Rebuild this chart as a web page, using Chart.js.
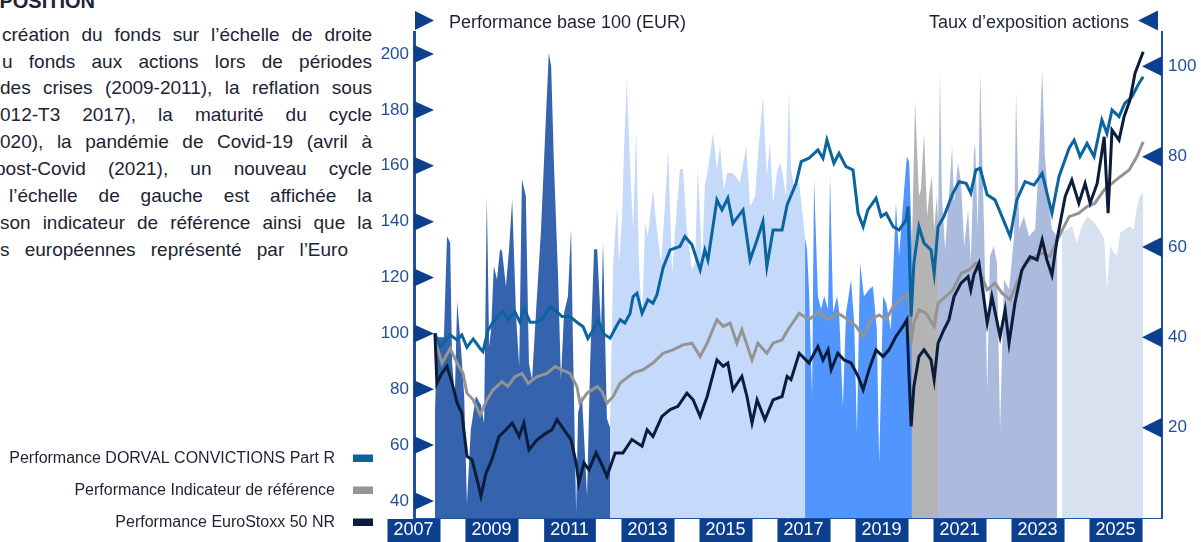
<!DOCTYPE html>
<html lang="fr">
<head>
<meta charset="utf-8">
<title>Performance base 100 et taux d'exposition actions</title>
<script src="https://cdn.jsdelivr.net/npm/chart.js@4.4.0/dist/chart.umd.min.js"></script>
<style>
  html, body { margin: 0; padding: 0; background: #fff; overflow: hidden; }
  body { width: 1201px; height: 542px; position: relative; font-family: "Liberation Sans", Arial, sans-serif; }
  #chart { position: absolute; left: 0; top: 0; }
  .l { position: absolute; height: 27px; line-height: 27px; font-size: 19px; color: #1c2334;
       text-align: justify; text-align-last: justify; }
  .h { position: absolute; right: 1106px; top: -12px; height: 27px; line-height: 27px;
       font-size: 20px; font-weight: bold; color: #1c2334; white-space: nowrap; }
</style>
</head>
<body>
<div class="h">EXPOSITION</div>
<div class="l" style="top:20.6px;left:2px;width:370px">création du fonds sur l’échelle de droite</div>
<div class="l" style="top:47.5px;left:2px;width:370px">u fonds aux actions lors de périodes</div>
<div class="l" style="top:74.4px;left:0;width:372px">des crises (2009-2011), la reflation sous</div>
<div class="l" style="top:101.3px;left:0;width:372px">012-T3 2017), la maturité du cycle</div>
<div class="l" style="top:128.2px;left:0;width:372px">020), la pandémie de Covid-19 (avril à</div>
<div class="l" style="top:155.1px;left:-5px;width:377px">post-Covid (2021), un nouveau cycle</div>
<div class="l" style="top:182px;left:9px;width:363px">l’échelle de gauche est affichée la</div>
<div class="l" style="top:208.9px;left:0;width:372px">son indicateur de référence ainsi que la</div>
<div class="l" style="top:235.8px;left:0;width:348px">s européennes représenté par l’Euro</div>

<canvas id="chart" width="1201" height="542"></canvas>

<script>
// ========== DONNÉES ==========
// années décimales (le libellé "2009" est centré sur le milieu de l'année)
const yearTicks = [2007, 2009, 2011, 2013, 2015, 2017, 2019, 2021, 2023, 2025];

const seriesLabels = [
  'Performance DORVAL CONVICTIONS Part R',
  'Performance Indicateur de référence',
  'Performance EuroStoxx 50 NR'
];
const leftTitle = 'Performance base 100 (EUR)';
const rightTitle = 'Taux d’exposition actions';

const fundDates = [2008.05, 2008.18, 2008.44, 2008.62, 2008.74, 2008.87, 2009.03, 2009.21, 2009.28, 2009.41,
  2009.54, 2009.79, 2009.92, 2010.10, 2010.23, 2010.33, 2010.49, 2010.67, 2010.82, 2011.00,
  2011.13, 2011.31, 2011.51, 2011.69, 2011.85, 2011.97, 2012.10, 2012.23, 2012.36, 2012.54,
  2012.72, 2012.80, 2012.92, 2013.05, 2013.13, 2013.23, 2013.36, 2013.51, 2013.64, 2013.74,
  2013.90, 2014.08, 2014.33, 2014.46, 2014.64, 2014.85, 2014.97, 2015.05, 2015.28, 2015.41,
  2015.56, 2015.69, 2015.82, 2015.95, 2016.13, 2016.31, 2016.46, 2016.56, 2016.72, 2016.95,
  2017.08, 2017.31, 2017.44, 2017.64, 2017.87, 2018.00, 2018.10, 2018.28, 2018.41, 2018.59,
  2018.77, 2018.90, 2019.03, 2019.15, 2019.36, 2019.49, 2019.62, 2019.80, 2019.95, 2020.13,
  2020.18, 2020.26, 2020.33, 2020.46, 2020.59, 2020.77, 2020.85, 2020.95, 2021.10, 2021.33,
  2021.49, 2021.67, 2021.79, 2021.92, 2022.03, 2022.21, 2022.41, 2022.59, 2022.80, 2022.97,
  2023.18, 2023.41, 2023.62, 2023.87, 2024.05, 2024.31, 2024.44, 2024.59, 2024.77, 2024.95,
  2025.15, 2025.28, 2025.41, 2025.59, 2025.74, 2025.92, 2026.10, 2026.21];
const fundValues = [100, 95.2, 99.5, 97.6, 99.4, 95, 98, 94.6, 93.5, 101,
  104, 108, 105, 107.7, 104, 109, 104, 104, 105.4, 109.5,
  108.3, 106, 106, 104, 102.4, 98.2, 101, 104.8, 100, 98.3,
  103, 104.9, 103.7, 107, 113.2, 114.4, 107.2, 112, 110.8, 113.7,
  123.5, 129.9, 131.1, 134.7, 131.7, 122.7, 129.9, 126.3, 147.8, 144.2,
  148.4, 139.4, 141.8, 144.2, 126.3, 133.5, 140, 123.9, 137, 137,
  146, 153.7, 161.5, 162.7, 165.7, 162.7, 169.2, 160.9, 164.5, 159.7,
  158.5, 143, 138.2, 144.2, 148.4, 141.8, 143, 138.2, 137, 140.6,
  145.4, 106, 125.1, 138.2, 132.3, 129.9, 121.5, 138.2, 141.8, 150.2,
  154.3, 153.7, 150.2, 158.5, 159.1, 149.6, 147.8, 141.8, 134.7, 147.8,
  154.3, 153.1, 157.3, 143, 156.1, 166.3, 169.2, 163.3, 168, 163.3,
  176.4, 171.6, 180, 177.6, 182.4, 184.7, 189.5, 191.9];

const indexDates = [2008.05, 2008.13, 2008.23, 2008.44, 2008.62, 2008.77, 2008.87, 2009.03, 2009.21, 2009.38,
  2009.54, 2009.77, 2009.92, 2010.10, 2010.28, 2010.44, 2010.67, 2010.92, 2011.13, 2011.31,
  2011.51, 2011.69, 2011.77, 2011.95, 2012.21, 2012.33, 2012.46, 2012.62, 2012.80, 2013.13,
  2013.39, 2013.64, 2013.90, 2014.15, 2014.41, 2014.64, 2014.85, 2015.03, 2015.28, 2015.44,
  2015.62, 2015.79, 2015.92, 2016.18, 2016.33, 2016.56, 2016.72, 2016.95, 2017.10, 2017.39,
  2017.64, 2017.90, 2018.13, 2018.38, 2018.59, 2018.85, 2019.03, 2019.23, 2019.44, 2019.62,
  2019.80, 2020.00, 2020.20, 2020.26, 2020.33, 2020.46, 2020.64, 2020.85, 2020.95, 2021.15,
  2021.33, 2021.54, 2021.74, 2021.92, 2022.00, 2022.21, 2022.41, 2022.59, 2022.80, 2022.97,
  2023.18, 2023.44, 2023.62, 2023.82, 2024.05, 2024.31, 2024.56, 2024.77, 2024.97, 2025.21,
  2025.41, 2025.62, 2025.85, 2026.05, 2026.21];
const indexValues = [100, 94, 89.3, 94.6, 89.3, 85.7, 78.6, 76.2, 70.8, 76.2,
  79.8, 82.7, 81, 84.5, 85.7, 82.1, 84.5, 85.7, 88.1, 86.9,
  85.7, 81, 75, 78.6, 81, 79.2, 75, 77.4, 82.2, 85.8,
  87, 89.4, 92.9, 94.1, 95.9, 96.5, 91.7, 96.5, 104.9, 102.5,
  103.7, 96.5, 101.3, 90.5, 96.5, 92.9, 96.5, 97.7, 101.3, 107.2,
  104.9, 107.8, 104.9, 107.2, 105.4, 102.5, 98.9, 104.9, 106.6, 104.9,
  109.6, 112, 114.4, 96.5, 103.7, 108.4, 107.2, 102.5, 110.8, 113.2,
  115.6, 121.5, 122.7, 125.1, 122.7, 115.6, 118, 114.4, 112, 118,
  125.1, 127.5, 128.7, 127.5, 134.7, 141.8, 143, 145.4, 146.6, 151.4,
  153.7, 156.1, 158.5, 163.3, 168.6];

const euroDates = [2008.05, 2008.10, 2008.23, 2008.36, 2008.49, 2008.62, 2008.74, 2008.87, 2009.00, 2009.13,
  2009.23, 2009.36, 2009.51, 2009.69, 2009.87, 2010.03, 2010.21, 2010.33, 2010.46, 2010.67,
  2010.90, 2011.05, 2011.18, 2011.36, 2011.54, 2011.67, 2011.74, 2011.87, 2012.00, 2012.18,
  2012.31, 2012.46, 2012.67, 2012.87, 2013.10, 2013.36, 2013.49, 2013.64, 2013.87, 2014.08,
  2014.28, 2014.51, 2014.67, 2014.85, 2015.03, 2015.28, 2015.44, 2015.56, 2015.69, 2015.92,
  2016.05, 2016.18, 2016.31, 2016.51, 2016.72, 2016.95, 2017.08, 2017.18, 2017.39, 2017.64,
  2017.87, 2018.00, 2018.13, 2018.21, 2018.38, 2018.54, 2018.72, 2018.90, 2019.03, 2019.18,
  2019.36, 2019.54, 2019.69, 2019.87, 2020.05, 2020.15, 2020.21, 2020.26, 2020.33, 2020.46,
  2020.59, 2020.77, 2020.85, 2020.95, 2021.10, 2021.23, 2021.36, 2021.54, 2021.72, 2021.79,
  2021.87, 2022.00, 2022.21, 2022.33, 2022.54, 2022.67, 2022.77, 2022.92, 2023.10, 2023.31,
  2023.49, 2023.62, 2023.74, 2023.87, 2024.00, 2024.21, 2024.38, 2024.56, 2024.72, 2024.85,
  2025.03, 2025.21, 2025.31, 2025.41, 2025.59, 2025.72, 2025.87, 2026.00, 2026.13, 2026.21];
const euroValues = [100, 82.2, 85.8, 88.2, 82.2, 75, 71.5, 56, 54.8, 47.6,
  41.7, 50, 54.8, 63.1, 65.5, 67.9, 63.1, 67.9, 58.3, 61.9,
  64.3, 65.5, 69.1, 65.5, 61.9, 53.6, 46.4, 53.6, 51.2, 57.2,
  53.6, 48.8, 57.2, 57.2, 62, 59.6, 65.5, 63.1, 70.3, 72.7,
  73.9, 78.6, 76.2, 70.3, 77.4, 90.5, 88.2, 89.4, 79.8, 84.6,
  77.4, 67.9, 76.2, 69.1, 76.2, 77.4, 84.6, 83.4, 92.9, 89.4,
  95.3, 90.5, 94.1, 87, 92.9, 90.5, 89.4, 84.6, 79.8, 87,
  94.1, 91.7, 94.1, 98.9, 102.5, 104.9, 83.4, 66.7, 81, 91.7,
  94.1, 90.5, 83.4, 96.5, 101.3, 104.9, 113.2, 118, 120.3, 115.6,
  121, 125.1, 103.7, 113.2, 98.9, 108.4, 96.5, 110.8, 122.7, 127.5,
  126.3, 133.5, 126.3, 120.9, 133.5, 149, 154.9, 146.6, 153.7, 146.6,
  153.7, 170.4, 143, 172.8, 169.2, 177.6, 183.5, 193.1, 197.9, 200.8];

// Taux d'exposition actions (%), échelle de droite
const exposureDates = [2008.05, 2008.10, 2008.28, 2008.36, 2008.44, 2008.49, 2008.56, 2008.62, 2008.72, 2008.80,
  2008.87, 2008.97, 2009.10, 2009.23, 2009.31, 2009.38, 2009.44, 2009.49, 2009.56, 2009.64,
  2009.72, 2009.77, 2009.87, 2009.95, 2010.03, 2010.13, 2010.21, 2010.28, 2010.38, 2010.46,
  2010.54, 2010.64, 2010.77, 2010.90, 2010.97, 2011.03, 2011.10, 2011.21, 2011.28, 2011.36,
  2011.46, 2011.54, 2011.59, 2011.67, 2011.72, 2011.82, 2011.95, 2012.03, 2012.13, 2012.21,
  2012.31, 2012.36, 2012.46, 2012.54,
  2012.62, 2012.72, 2012.77, 2012.85, 2012.90, 2012.97, 2013.05, 2013.13, 2013.21, 2013.28,
  2013.36, 2013.44, 2013.51, 2013.64, 2013.74, 2013.85, 2013.95, 2014.03, 2014.13, 2014.21,
  2014.33, 2014.41, 2014.51, 2014.64, 2014.72, 2014.79, 2014.90, 2014.97, 2015.05, 2015.18,
  2015.28, 2015.36, 2015.46, 2015.54, 2015.69, 2015.87, 2016.03, 2016.13, 2016.26, 2016.33,
  2016.46, 2016.56, 2016.64, 2016.72, 2016.82, 2016.90, 2016.97, 2017.05, 2017.13, 2017.18,
  2017.26, 2017.39, 2017.54,
  2017.59, 2017.64, 2017.72, 2017.77, 2017.87, 2017.95, 2018.03, 2018.13, 2018.18, 2018.26,
  2018.36, 2018.41, 2018.51, 2018.59, 2018.72, 2018.80, 2018.87, 2018.95, 2019.05, 2019.18,
  2019.28, 2019.38, 2019.44, 2019.54, 2019.62, 2019.74, 2019.87, 2019.95, 2020.08, 2020.15,
  2020.21, 2020.28,
  2020.36, 2020.46, 2020.51, 2020.59, 2020.67, 2020.72, 2020.79, 2020.85, 2020.92, 2020.95,
  2021.00, 2021.05, 2021.13, 2021.23, 2021.31, 2021.36, 2021.46, 2021.54, 2021.62, 2021.72,
  2021.79, 2021.87, 2021.90, 2021.97, 2022.03, 2022.13, 2022.21, 2022.28, 2022.38, 2022.46,
  2022.54, 2022.64, 2022.77, 2022.90, 2022.95, 2023.03, 2023.15, 2023.28, 2023.44, 2023.54,
  2023.62, 2023.69, 2023.79, 2023.87, 2024.00,
  2024.13, 2024.26, 2024.38, 2024.51, 2024.64, 2024.77, 2024.95, 2025.08, 2025.21, 2025.28,
  2025.36, 2025.46, 2025.54, 2025.62, 2025.74, 2025.87, 2025.97, 2026.05, 2026.13, 2026.21];
const exposureValues = [23, 40, 40, 62.4, 61, 34.3, 27, 48, 37.3, 27,
  3.3, 19.6, 27, 25, 21, 71.3, 38, 41.7, 55.8, 52.8,
  59.5, 59.1, 51.3, 59.5, 70.5, 44.7, 33.6, 75, 71.3, 34.3,
  30.6, 45.4, 63.9, 89.7, 103, 100, 78.7, 52.8, 30.6, 45.4,
  49.1, 63.9, 38, 1.1, 23.3, 27, 4.8, 34.3, 59.5, 59.5,
  41.7, 61, 22, 20,
  56.5, 69, 56.5, 66.8, 82.3, 97, 78.7, 63.9, 86, 56.5,
  43.9, 65.4, 62.4, 72.7, 63.9, 56.5, 69.8, 81.6, 54.3, 63.9,
  77.2, 77.2, 63.9, 55, 56.5, 77.9, 56.5, 73.5, 77.2, 85.3,
  77.2, 82.3, 72.7, 76.4, 76.4, 74.2, 82.3, 69, 71.3, 80.1,
  93.4, 75.7, 83.1, 69.8, 76.4, 78.7, 75.7, 71.3, 94.9, 77.2,
  73.5, 74.2, 62,
  59.5, 50.6, 27, 75, 49.1, 46.2, 49.1, 46.2, 75.7, 45.4,
  49.1, 46.2, 24.7, 45.4, 52.8, 43.2, 18.8, 56.5, 49.1, 50.6,
  51.3, 41.7, 12.2, 49.1, 47.6, 41.7, 69.8, 58, 72.7, 80.1,
  78.7, 60,
  92.3, 71.3, 72.7, 85.3, 66.8, 71.3, 75.7, 63.9, 71.3, 65,
  98.6, 71.3, 59.5, 71.3, 82.3, 69.8, 78.7, 74.2, 60.2, 68.3,
  56.5, 80.9, 83.1, 63.9, 98.6, 63.9, 28.4, 58, 60.2, 56.5,
  19.6, 52.8, 50.6, 62.4, 94.2, 63.9, 66.8, 62.4, 63.9, 80.1,
  99.3, 80.1, 69.8, 63.9, 62.4,
  63.1, 63.9, 64.6, 60.9, 64.6, 66.8, 65.4, 63.9, 61.7, 50.6,
  60.2, 58.7, 58, 63.1, 63.9, 64.6, 63.9, 69.1, 71.3, 72];

// périodes de cycle (couleur de l'aire d'exposition)
const phaseLabels = ['Crises 2009-2011', 'Reflation', 'Maturité du cycle', 'Covid-19', 'Post-Covid', 'Nouveau cycle'];
const phaseStart  = [2008.05, 2012.54, 2017.54, 2020.28, 2020.95, 2024.13];
const phaseEnd    = [2012.54, 2017.54, 2020.28, 2020.95, 2024.00, 2026.21];

// ========== STYLES ==========
const NAVY = '#0c3f8e';
const AXIS_LINE = '#1d52a3';
const TICK_BLUE = '#1f4f9c';
const TEXT_DARK = '#1c2334';
const FONT = '"Liberation Sans", Arial, sans-serif';
const lineColors = ['#0a64a0', '#949494', '#0b1c3c'];
const phaseColors = ['#3563ad', '#c5dafa', '#5196fe', '#b4b4b4', '#abbbde', '#d8e1f0'];

function toPoints(dates, values) {
  return dates.map((d, i) => ({ x: d, y: values[i] }));
}

function triangle(ctx, x, y, len, half) {
  ctx.beginPath();
  ctx.moveTo(x, y - half);
  ctx.lineTo(x + len, y);
  ctx.lineTo(x, y + half);
  ctx.closePath();
  ctx.fill();
}

// ========== DATASETS ==========
const lineSets = [
  [fundDates, fundValues],
  [indexDates, indexValues],
  [euroDates, euroValues]
].map(([d, v], i) => ({
  label: seriesLabels[i],
  data: toPoints(d, v),
  yAxisID: 'yL',
  borderColor: lineColors[i],
  borderWidth: 3,
  borderJoinStyle: 'miter',
  pointRadius: 0,
  tension: 0,
  fill: false,
  order: [1, 2, 0][i]
}));

const exposurePoints = toPoints(exposureDates, exposureValues);
const phaseSets = phaseLabels.map((name, i) => ({
  label: rightTitle + ' - ' + name,
  data: exposurePoints.filter(p => p.x >= phaseStart[i] && p.x <= phaseEnd[i]),
  yAxisID: 'yR',
  backgroundColor: phaseColors[i],
  borderWidth: 0,
  pointRadius: 0,
  tension: 0,
  fill: 'origin',
  order: 10 + i
}));

// ========== DÉCOR (triangles, titres, légende) ==========
const decorations = {
  id: 'decorations',
  afterDraw(chart) {
    const { ctx, chartArea: a, scales } = chart;
    ctx.save();
    ctx.fillStyle = NAVY;
    scales.yL.ticks.forEach(t => triangle(ctx, a.left, scales.yL.getPixelForValue(t.value), 20, 9));
    scales.yR.ticks.forEach(t => {
      if (t.value <= 0) return;
      triangle(ctx, a.right, scales.yR.getPixelForValue(t.value), -20, 10);
    });
    triangle(ctx, a.left + 1, 20.5, 19, 9.5);
    triangle(ctx, a.right - 4, 20.5, -20, 10);

    ctx.fillStyle = TEXT_DARK;
    ctx.font = '18px ' + FONT;
    ctx.textBaseline = 'alphabetic';
    ctx.textAlign = 'left';
    ctx.fillText(leftTitle, 449, 28);
    ctx.textAlign = 'right';
    ctx.fillText(rightTitle, 1129, 27.5);

    // légende
    ctx.font = '16px ' + FONT;
    seriesLabels.forEach((lbl, i) => {
      const base = 462.5 + i * 32;
      ctx.fillStyle = TEXT_DARK;
      ctx.fillText(lbl, 335, base);
      ctx.fillStyle = lineColors[i];
      ctx.fillRect(353, base - 8, 20, 7.5);
    });
    ctx.restore();
  }
};

// ========== GRAPHIQUE ==========
new Chart(document.getElementById('chart').getContext('2d'), {
  type: 'line',
  data: { datasets: [...lineSets, ...phaseSets] },
  options: {
    responsive: false,
    animation: false,
    devicePixelRatio: 1,
    layout: { padding: { top: 32, left: 0, right: 0, bottom: 0 } },
    plugins: { legend: { display: false }, tooltip: { enabled: false } },
    scales: {
      x: {
        type: 'linear',
        position: 'bottom',
        min: 2007.513,
        max: 2026.692,
        afterFit: s => { s.height = 24; },
        afterBuildTicks: s => { s.ticks = yearTicks.map(y => ({ value: y + 0.5 })); },
        grid: { display: false, drawTicks: false },
        border: { display: true, color: AXIS_LINE, width: 1, z: 1 },
        ticks: {
          autoSkip: false,
          maxRotation: 0,
          padding: 1,
          color: '#ffffff',
          font: { family: FONT, size: 18 },
          showLabelBackdrop: true,
          backdropColor: NAVY,
          backdropPadding: { top: 0, bottom: 5, left: 6, right: 7 },
          callback: v => String(Math.floor(v))
        }
      },
      yL: {
        type: 'linear',
        position: 'left',
        min: 33.9,
        max: 207.9,
        afterFit: s => { s.width = 414; },
        grid: { display: false, drawTicks: false },
        border: { display: true, color: AXIS_LINE, width: 3, z: 1 },
        ticks: {
          stepSize: 20,
          includeBounds: false,
          padding: 5,
          color: TICK_BLUE,
          font: { family: FONT, size: 17 },
          callback: v => String(v)
        }
      },
      yR: {
        type: 'linear',
        position: 'right',
        min: 0,
        max: 107.6,
        afterFit: s => { s.width = 39; },
        grid: { display: false, drawTicks: false },
        border: { display: true, color: AXIS_LINE, width: 2, z: 1 },
        ticks: {
          stepSize: 20,
          includeBounds: false,
          padding: 6,
          color: TICK_BLUE,
          font: { family: FONT, size: 17 },
          callback: v => (v === 0 ? '' : String(v))
        }
      }
    }
  },
  plugins: [decorations]
});
</script>
</body>
</html>
